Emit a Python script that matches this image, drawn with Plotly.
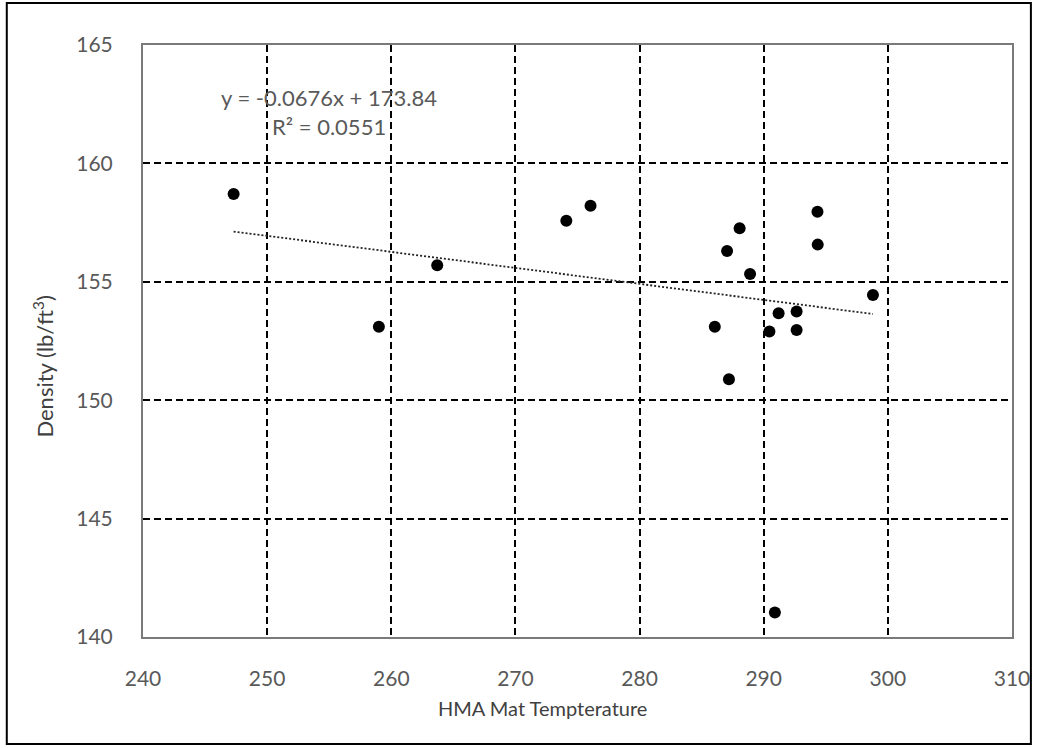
import plotly.graph_objects as go

# HMA mat temperature vs. core density
mat_temp = [247.3, 259.0, 263.7, 274.1, 276.05, 286.06, 287.05, 287.2, 288.06,
            288.9, 290.46, 290.9, 291.2, 292.65, 292.65, 294.33, 294.35, 298.8]
density = [158.71, 153.1, 155.7, 157.58, 158.21, 153.1, 156.3, 150.88, 157.26,
           155.33, 152.9, 141.03, 153.67, 153.75, 152.96, 157.96, 156.57, 154.44]

# Linear trendline coefficients
slope = -0.0676
intercept = 173.84
r_squared = 0.0551

x_ticks = [240, 250, 260, 270, 280, 290, 300, 310]
y_ticks = [140, 145, 150, 155, 160, 165]

W, H = 1042, 748
L, R, T, B = 143, 25, 45, 111
pw, ph = W - L - R, H - T - B

trend_x = [min(mat_temp), max(mat_temp)]
trend_y = [slope * v + intercept for v in trend_x]

fig = go.Figure()
fig.add_trace(go.Scatter(
    x=trend_x, y=trend_y, mode="lines",
    line=dict(color="#222222", width=1.8, dash="2px,2px"),
    hoverinfo="skip", showlegend=False))
fig.add_trace(go.Scatter(
    x=mat_temp, y=density, mode="markers",
    marker=dict(color="black", size=12),
    showlegend=False))

font_family = "Lato, 'Open Sans', sans-serif"
grid_dash = "7px,4px"
tick_color = "#595959"
title_color = "#404040"

fig.update_layout(
    width=W, height=H,
    margin=dict(l=L, r=R, t=T, b=B),
    paper_bgcolor="white", plot_bgcolor="white",
    font=dict(family=font_family, color=tick_color, size=21),
    xaxis=dict(range=[240, 310], tickvals=x_ticks, showgrid=True,
               gridcolor="black", gridwidth=1.5, griddash=grid_dash,
               showline=True, linecolor="#7a7a7a", linewidth=2, mirror=True,
               zeroline=False, ticks="", ticklabelstandoff=22,
               tickfont=dict(size=21, color=tick_color)),
    yaxis=dict(range=[140, 165], tickvals=y_ticks, showgrid=True,
               gridcolor="black", gridwidth=1.5, griddash=grid_dash,
               showline=True, linecolor="#7a7a7a", linewidth=2, mirror=True,
               zeroline=False, ticks="", ticklabelstandoff=24,
               tickfont=dict(size=21, color=tick_color)),
)

def px_x(p):
    return (p - L) / pw

def px_y(p):
    return (H - B - p) / ph

def label(text, x, y, size, color, angle=0):
    return dict(text=text, x=px_x(x), y=px_y(y), xref="paper", yref="paper",
                xanchor="center", yanchor="middle", showarrow=False,
                textangle=angle, font=dict(size=size, color=color))

annotations = [
    label(f"y = {slope}x + {intercept}", 330, 97, 22, tick_color),
    label(f"R² = {r_squared}", 330, 127, 22, tick_color),
    label("HMA Mat Tempterature", 545, 708, 20, title_color),
    label("Density (lb/ft<sup>3</sup>)", 43, 367, 22, title_color, -90),
]
fig.update_layout(annotations=annotations)

# Outer chart frame
fig.add_shape(type="rect", xref="paper", yref="paper",
              x0=px_x(6), x1=px_x(1036), y0=px_y(744), y1=px_y(3),
              line=dict(color="black", width=2), fillcolor="rgba(0,0,0,0)",
              layer="above")

fig.write_html("out.html")
